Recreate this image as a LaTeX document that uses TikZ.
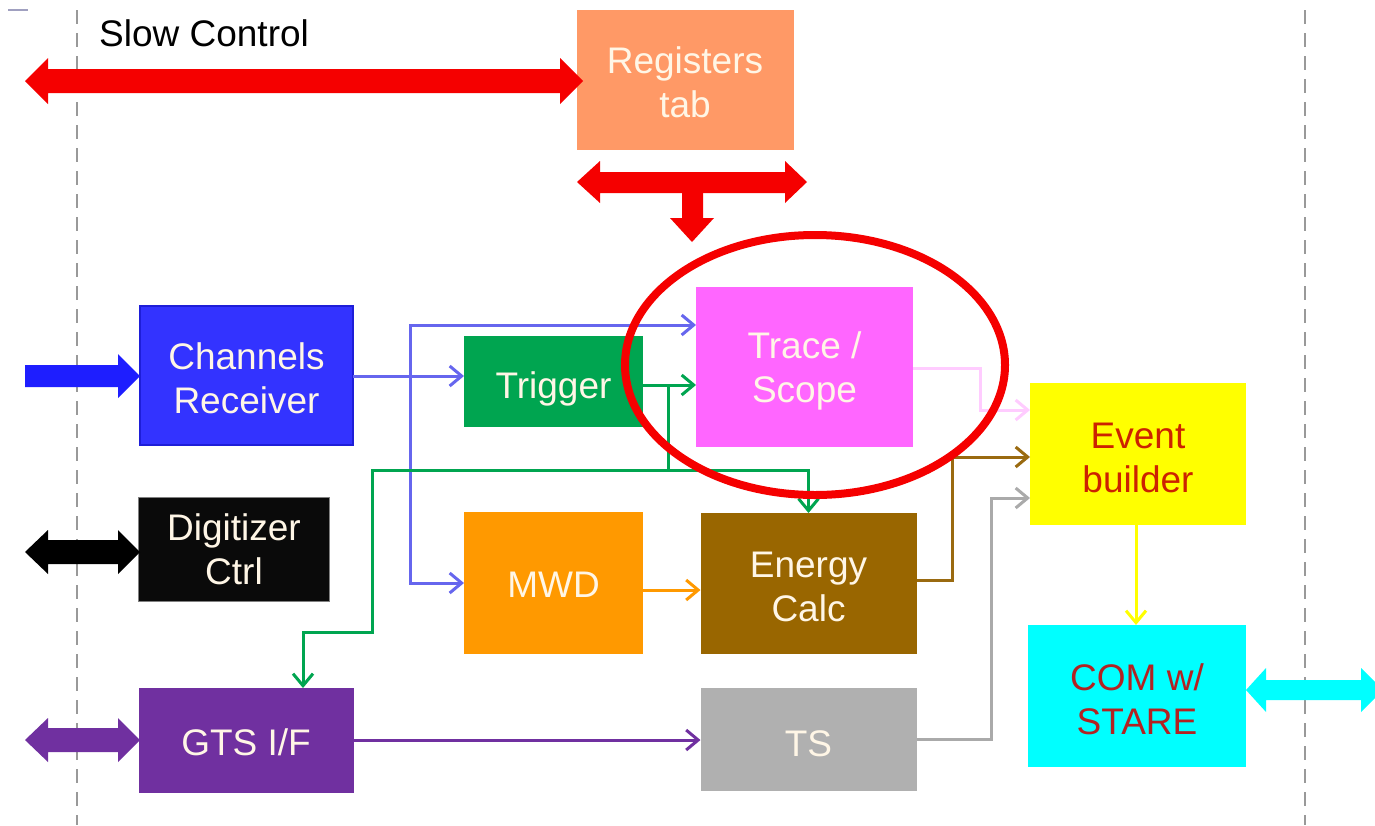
\documentclass[tikz,border=0pt]{standalone}
\usepackage{fontspec}
\setmainfont{Liberation Sans}
\usetikzlibrary{arrows.meta}
\definecolor{cream}{HTML}{FFF6E6}
\definecolor{regc}{HTML}{FF9966}
\definecolor{chanc}{HTML}{3333FF}
\definecolor{chanb}{HTML}{1E1ED8}
\definecolor{trigc}{HTML}{00A550}
\definecolor{tracec}{HTML}{FF66FF}
\definecolor{ebc}{HTML}{FFFF00}
\definecolor{ebt}{HTML}{CC2200}
\definecolor{digc}{HTML}{0A0A0A}
\definecolor{mwdc}{HTML}{FF9900}
\definecolor{enc}{HTML}{996600}
\definecolor{comc}{HTML}{00FFFF}
\definecolor{comt}{HTML}{B22222}
\definecolor{gtsc}{HTML}{7030A0}
\definecolor{tsc}{HTML}{B0B0B0}
\definecolor{blin}{HTML}{6666EE}
\definecolor{pkl}{HTML}{FFCCFF}
\definecolor{brl}{HTML}{9A6A10}
\definecolor{gyl}{HTML}{AAAAAA}
\definecolor{dashc}{HTML}{999999}
\definecolor{redc}{HTML}{F50000}
\newcommand\txtup[1]{\rule{0pt}{#1pt}}
\tikzset{
  box/.style={rectangle, inner sep=0pt, outer sep=0pt, align=center, text=cream,
    font=\fontsize{37}{44}\selectfont},
  wire/.style={line width=3pt},
  tip/.style={-{Straight Barb[length=12pt,width=20pt,line width=3pt]}},
}
\begin{document}
\begin{tikzpicture}[x=1pt,y=-1pt]
\useasboundingbox (0,0) rectangle (1375,825);
\fill[white] (0,0) rectangle (1375,825);
% dashed separators
\draw[dashc, line width=2pt, dash pattern=on 14pt off 9pt] (77,10) -- (77,825);
\draw[dashc, line width=2pt, dash pattern=on 14pt off 9pt] (1305,10) -- (1305,825);
\draw[color={rgb,255:red,160;green,160;blue,192}, line width=1.5pt] (8,10) -- (28,10);

% boxes
\node[box, fill=regc, minimum width=217pt, minimum height=140pt] (reg) at (685,80) {\txtup{31}Registers\\tab};
\node[box, fill=chanc, draw=chanb, line width=2pt, minimum width=213pt, minimum height=139pt] (chan) at (246.5,375.5) {\txtup{33}Channels\\Receiver};
\node[box, fill=trigc, minimum width=179pt, minimum height=91pt] (trig) at (553.5,381.5) {\txtup{41}Trigger};
\node[box, fill=tracec, minimum width=217pt, minimum height=160pt] (trace) at (804.5,367) {\txtup{35}Trace /\\Scope};
\node[box, fill=ebc, text=ebt, minimum width=216pt, minimum height=142pt] (eb) at (1138,454) {\txtup{33}Event\\builder};
\node[box, fill=digc, draw=gray, line width=1pt, minimum width=191pt, minimum height=104pt] (dig) at (234,549.5) {Digitizer\\Ctrl};
\node[box, fill=mwdc, minimum width=179pt, minimum height=142pt] (mwd) at (553.5,583) {\txtup{29}MWD};
\node[box, fill=enc, minimum width=216pt, minimum height=141pt] (en) at (808.5,583.5) {\txtup{33}Energy\\Calc};
\node[box, fill=comc, text=comt, minimum width=218pt, minimum height=142pt] (com) at (1137,696) {\txtup{33}COM w/\\STARE};
\node[box, fill=gtsc, minimum width=215pt, minimum height=105pt] (gts) at (246,740.5) {\txtup{31}GTS I/F};
\node[box, fill=tsc, minimum width=216pt, minimum height=103pt] (ts) at (808.5,739.5) {\txtup{35}TS};

\node[anchor=west, inner sep=0pt, font=\fontsize{37}{44}\selectfont] (sc) at (99,33) {Slow Control};

% fat arrows
\fill[redc] (25,81) -- (48,58) -- (48,69) -- (560,69) -- (560,58) -- (583,81) -- (560,104) -- (560,93) -- (48,93) -- (48,104) -- cycle;
\fill[redc] (577,182) -- (600,161) -- (600,172) -- (785,172) -- (785,161) -- (807,182) -- (785,203) -- (785,193) -- (600,193) -- (600,203) -- cycle;
\fill[redc] (682,190) -- (703,190) -- (703,218) -- (714,218) -- (692,242) -- (670,218) -- (682,218) -- cycle;
\fill[color={rgb,255:red,30;green,30;blue,255}] (25,365) -- (118,365) -- (118,354) -- (140,376) -- (118,398) -- (118,387) -- (25,387) -- cycle;
\fill[black] (25,552) -- (48,530) -- (48,540) -- (118,540) -- (118,530) -- (140,552) -- (118,574) -- (118,564) -- (48,564) -- (48,574) -- cycle;
\fill[gtsc] (25,740) -- (48,718) -- (48,728) -- (118,728) -- (118,718) -- (140,740) -- (118,762) -- (118,752) -- (48,752) -- (48,762) -- cycle;
\fill[comc] (1246,690) -- (1266,668) -- (1266,680) -- (1361,680) -- (1361,668) -- (1383,690) -- (1361,712) -- (1361,700) -- (1266,700) -- (1266,712) -- cycle;

% connectors
\coordinate (bs) at (410,376);
\draw[wire, blin, tip] (chan.east |- bs) -- (trig.west |- bs);
\draw[wire, blin, tip] (bs) -- (410,325) -- (trace.west |- 0,325);
\draw[wire, blin, tip] (bs) -- (410,583) -- (mwd.west);

\coordinate (gs) at (668,470);
\draw[wire, trigc, tip] (trig.east |- 0,385) -- (trace.west |- 0,385);
\draw[wire, trigc] (668,385) -- (gs);
\draw[wire, trigc, tip] (gs) -| (en.north);
\draw[wire, trigc, tip] (gs) -- (372,470) -- (372,632) -- (303,632) -- (gts.north -| 303,0);

\draw[wire, pkl, tip] (trace.east |- 0,368) -- (980,368) -- (980,410) -- (eb.west |- 0,410);
\draw[wire, brl, tip] (en.east |- 0,580) -- (952,580) -- (952,457) -- (eb.west |- 0,457);
\draw[wire, gyl, tip] (ts.east |- 0,739) -- (991,739) -- (991,498) -- (eb.west |- 0,498);
\draw[wire, gtsc, tip] (gts.east |- 0,740) -- (ts.west |- 0,740);
\draw[wire, mwdc, tip] (mwd.east |- 0,590) -- (en.west |- 0,590);
\draw[wire, ebc, tip] (eb.south -| 1136,0) -- (com.north -| 1136,0);

% highlight ellipse
\draw[redc, line width=8pt] (815,365) ellipse [x radius=190pt, y radius=130pt];
\end{tikzpicture}
\end{document}
